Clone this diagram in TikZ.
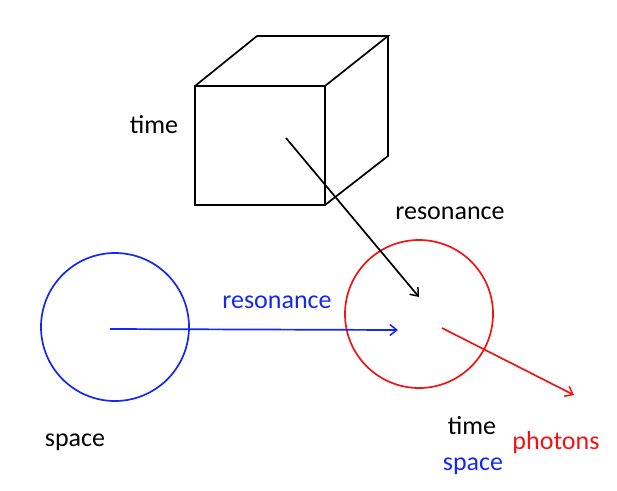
\documentclass[tikz,border=0pt]{standalone}
\usepackage{fontspec}
\setmainfont{Carlito}
\usetikzlibrary{arrows.meta}
\definecolor{myblue}{RGB}{20,40,240}
\definecolor{myred}{RGB}{240,20,20}
\tikzset{
  ln/.style={line width=1.7pt},
  arr/.style={ln,-{Straight Barb[length=7pt,width=11pt,line width=1.5pt]}},
  lbl/.style={font=\fontsize{26}{30}\selectfont, inner sep=0pt, anchor=base},
}
\begin{document}
\begin{tikzpicture}[x=1pt,y=-1pt]
\useasboundingbox (0,0) rectangle (617,490);
% cube
\coordinate (ftl) at (195,86);
\coordinate (ftr) at (325,86);
\coordinate (fbl) at (195,205);
\coordinate (fbr) at (325,205);
\coordinate (btl) at (257,36);
\coordinate (btr) at (388,36);
\coordinate (bbr) at (388,156);
\draw[ln] (ftl) rectangle (fbr);
\draw[ln] (ftl) -- (btl) -- (btr) -- (ftr);
\draw[ln] (btr) -- (bbr) -- (fbr);
% circles
\node[draw=myblue, ln, circle, minimum size=148pt, inner sep=0pt] (bc) at (115,327) {};
\node[draw=myred, ln, circle, minimum size=148pt, inner sep=0pt] (rc) at (419,314) {};
% arrows
\coordinate (ka) at (286,138);
\coordinate (kb) at (419,297);
\draw[arr] (ka) -- (kb);
\coordinate (ba) at (110,329);
\coordinate (bb) at (398,330);
\draw[arr, myblue] (ba) -- (bb);
\coordinate (ra) at (442,328);
\coordinate (rb) at (574,395);
\draw[arr, myred] (ra) -- (rb);
% labels
\node[lbl] (t1) at (154,133) {time};
\node[lbl] (r1) at (450,219) {resonance};
\node[lbl, text=myblue] (r2) at (277,308) {resonance};
\node[lbl] (s1) at (75,446) {space};
\node[lbl] (t2) at (472,434) {time};
\node[lbl, text=myblue] (s2) at (473,470) {space};
\node[lbl, text=myred] (p1) at (556,449) {photons};
\end{tikzpicture}
\end{document}
